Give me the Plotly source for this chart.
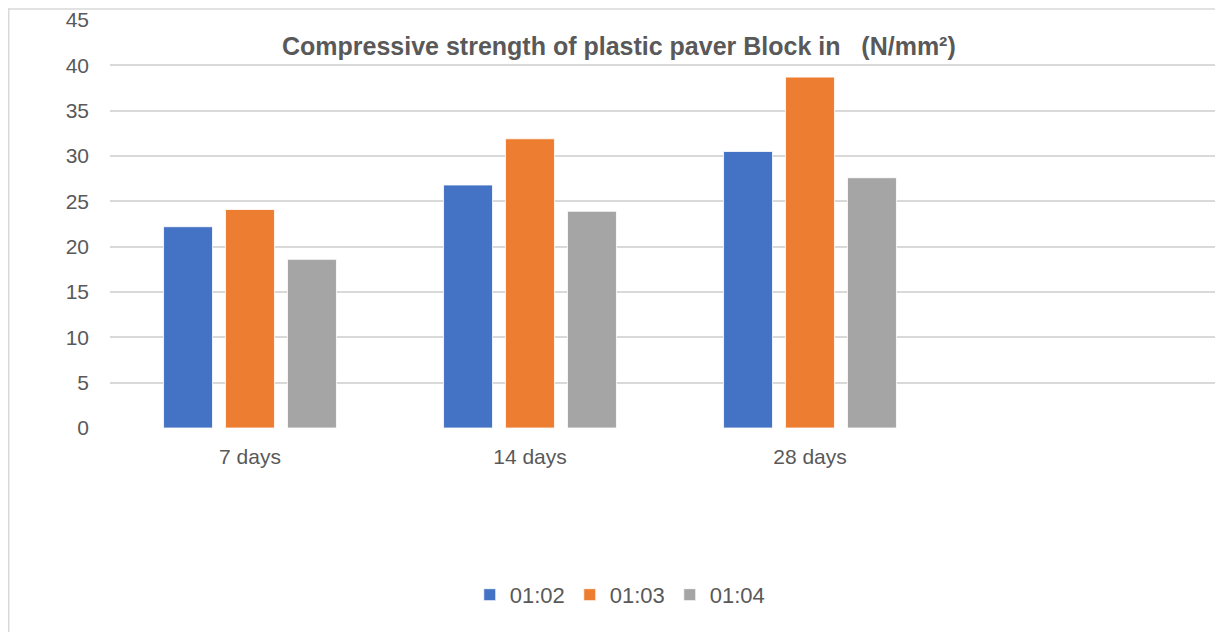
import plotly.graph_objects as go

categories = ["7 days", "14 days", "28 days"]
series_names = ["01:02", "01:03", "01:04"]
s_0102 = [22.2, 26.8, 30.5]
s_0103 = [24.1, 31.9, 38.7]
s_0104 = [18.6, 23.9, 27.6]
colors = ["#4472C4", "#ED7D31", "#A5A5A5"]
y_ticks = [0, 5, 10, 15, 20, 25, 30, 35, 40, 45]

FONT = "Liberation Sans, Arial, sans-serif"
TXT = "#595959"

xpos = list(range(len(categories)))
fig = go.Figure()
for name, vals, col in zip(series_names, [s_0102, s_0103, s_0104], colors):
    fig.add_trace(go.Bar(x=xpos, y=vals, name=name, marker_color=col,
                         marker_line_color="white", marker_line_width=0.8))

fig.update_layout(
    width=1215, height=624,
    margin=dict(l=102, r=0, t=12, b=204),
    paper_bgcolor="white", plot_bgcolor="white",
    barmode="group", bargap=0.336, bargroupgap=0.21,
    font=dict(family=FONT, color=TXT, size=21),
    showlegend=True,
    legend=dict(orientation="h", x=0.458, xanchor="center", y=-0.409, yanchor="middle",
                font=dict(size=22, color=TXT), itemwidth=30,
                entrywidth=55, entrywidthmode="pixels"),
)
fig.update_xaxes(range=[-0.5, 3.475], tickmode="array", tickvals=xpos, ticktext=categories,
                 showgrid=False, zeroline=False, showline=False, ticks="",
                 ticklabelstandoff=14, tickfont=dict(size=21, color=TXT))
fig.update_yaxes(range=[0, 45], tickmode="array", tickvals=y_ticks,
                 showgrid=True, gridcolor="#D9D9D9", gridwidth=1.5, zeroline=False,
                 showline=False, ticks="", ticklabelstandoff=20,
                 tickfont=dict(size=21, color=TXT))

fig.add_annotation(xref="paper", yref="paper", x=0.457, y=0.936, xanchor="center", yanchor="middle",
                   text="<b>Compressive strength of plastic paver Block in   (N/mm²)</b>",
                   showarrow=False, font=dict(size=25, color=TXT, family=FONT))

# chart frame (left and top borders)
fig.add_shape(type="line", xref="paper", yref="paper", x0=-0.0910, x1=-0.0910, y0=1.03, y1=-0.6,
              line=dict(color="#D9D9D9", width=1.5))
fig.add_shape(type="line", xref="paper", yref="paper", x0=-0.0910, x1=1.0, y0=1.027, y1=1.027,
              line=dict(color="#D9D9D9", width=1.5))

fig.write_html("out.html")
